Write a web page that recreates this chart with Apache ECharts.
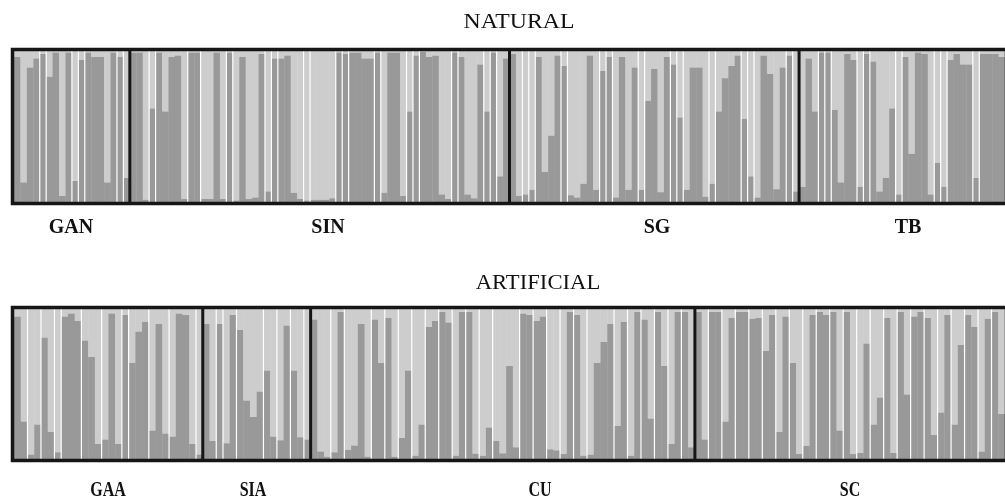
<!DOCTYPE html>
<html>
<head>
<meta charset="utf-8">
<script src="https://cdn.jsdelivr.net/npm/echarts@6/dist/echarts.min.js"></script>
<style>
  html, body { margin: 0; padding: 0; background: #fff; }
  #chart { width: 1005px; height: 502px; }
</style>
</head>
<body>
<div id="chart"></div>
<script>
// population labels
const naturalPops = ['GAN', 'SIN', 'SG', 'TB'];
const artificialPops = ['GAA', 'SIA', 'CU', 'SC'];

// membership of the dark cluster, one value per individual
const gan = [0.96, 0.13, 0.89, 0.95, 0.98, 0.83, 0.99, 0.04, 0.99, 0.14, 0.94, 0.99, 0.96, 0.96, 0.13, 0.99, 0.96, 0.16];
const sin = [0.99, 0.99, 0.015, 0.62, 0.99, 0.60, 0.96, 0.97, 0.02, 0.99, 0.99, 0.02, 0.02, 0.99, 0.02, 0.99, 0.01, 0.96, 0.02,
  0.03, 0.98, 0.07, 0.95, 0.95, 0.97, 0.06, 0.02, 0.01, 0.015, 0.015, 0.015, 0.025, 0.99, 0.98, 0.99, 0.99, 0.95, 0.95, 0.99,
  0.06, 0.99, 0.99, 0.04, 0.60, 0.97, 0.995, 0.96, 0.97, 0.05, 0.02, 0.99, 0.96, 0.05, 0.025, 0.91, 0.60, 0.99, 0.17, 0.95];
const sg = [0.98, 0.04, 0.05, 0.08, 0.96, 0.20, 0.44, 0.97, 0.90, 0.045, 0.03, 0.12, 0.97, 0.08, 0.87, 0.96, 0.03, 0.96, 0.08,
  0.89, 0.08, 0.67, 0.88, 0.065, 0.96, 0.91, 0.56, 0.08, 0.89, 0.89, 0.035, 0.12, 0.60, 0.82, 0.90, 0.97, 0.55, 0.17, 0.03,
  0.97, 0.85, 0.085, 0.89, 0.97, 0.07];
const tb = [0.10, 0.95, 0.60, 0.99, 0.99, 0.61, 0.13, 0.98, 0.94, 0.10, 0.98, 0.93, 0.07, 0.16, 0.62, 0.05, 0.96, 0.32, 0.99,
  0.98, 0.05, 0.26, 0.10, 0.94, 0.98, 0.91, 0.91, 0.16, 0.98, 0.98, 0.98, 0.96];

const gaa = [0.95, 0.25, 0.03, 0.23, 0.81, 0.18, 0.045, 0.95, 0.97, 0.92, 0.79, 0.68, 0.10, 0.13, 0.97, 0.10, 0.96, 0.64,
  0.85, 0.915, 0.19, 0.90, 0.17, 0.15, 0.97, 0.96, 0.10, 0.03];
const sia = [0.90, 0.12, 0.90, 0.105, 0.96, 0.86, 0.39, 0.28, 0.45, 0.59, 0.15, 0.125, 0.89, 0.59, 0.145, 0.13];
const cu = [0.93, 0.05, 0.016, 0.045, 0.98, 0.06, 0.09, 0.90, 0.016, 0.93, 0.64, 0.94, 0.016, 0.14, 0.59, 0.022, 0.23, 0.88,
  0.92, 0.98, 0.91, 0.022, 0.98, 0.98, 0.036, 0.022, 0.21, 0.12, 0.038, 0.62, 0.078, 0.97, 0.96, 0.92, 0.95, 0.065, 0.058,
  0.033, 0.98, 0.96, 0.022, 0.029, 0.64, 0.78, 0.90, 0.22, 0.915, 0.022, 0.98, 0.93, 0.27, 0.98, 0.62, 0.10, 0.98, 0.98, 0.078];
const sc = [0.98, 0.13, 0.98, 0.98, 0.25, 0.94, 0.98, 0.98, 0.935, 0.94, 0.72, 0.96, 0.18, 0.95, 0.64, 0.033, 0.087, 0.96,
  0.98, 0.96, 0.98, 0.19, 0.98, 0.033, 0.04, 0.77, 0.23, 0.41, 0.94, 0.04, 0.98, 0.43, 0.95, 0.98, 0.94, 0.16, 0.31, 0.96,
  0.23, 0.76, 0.96, 0.88, 0.05, 0.935, 0.98, 0.30];

// white lines between sampling sites (local index inside each population)
const ganSites = [4, 5, 9, 10, 11, 16, 17];
const sinSites = [3, 4, 9, 11, 15, 16, 21, 22, 23, 27, 28, 32, 33, 34, 38, 39, 43, 44, 45, 50, 51, 55, 56, 57];
const sgSites = [2, 3, 4, 8, 9, 14, 15, 16, 20, 21, 25, 26, 27, 31, 32, 36, 37, 38, 43, 44];
const tbSites = [3, 4, 5, 9, 10, 11, 15, 16, 21, 22, 23, 27, 28];
const gaaSites = [2, 4, 6, 7, 10, 13, 16, 17, 20, 23, 27];
const siaSites = [2, 3, 5, 9, 11, 13, 15];
const cuSites = [3, 5, 9, 11, 13, 15, 17, 19, 21, 23, 25, 27, 31, 33, 35, 37, 39, 41, 45, 47, 49, 51, 53, 55];
const scSites = [2, 4, 6, 8, 10, 12, 14, 16, 18, 20, 22, 24, 26, 28, 30, 32, 34, 36, 38, 40, 42, 44];

const DARK = '#999999';
const LIGHT = '#cdcdcd';
const FRAME = '#161616';

// flatten a panel: bars [i, v], lines [k, kind] (0 = site, 1 = population, 2 = frame)
function buildPanel(pops, sites) {
  const bars = [];
  const lines = [];
  let off = 0;
  pops.forEach((vals, p) => {
    sites[p].forEach(k => lines.push([off + k, 0]));
    if (p > 0) lines.push([off, 1]);
    vals.forEach((v, j) => bars.push([off + j, v]));
    off += vals.length;
  });
  lines.push([off, 2]);
  return { bars, lines, n: off };
}

const naturalPanel = buildPanel([gan, sin, sg, tb], [ganSites, sinSites, sgSites, tbSites]);
const artificialPanel = buildPanel([gaa, sia, cu, sc], [gaaSites, siaSites, cuSites, scSites]);

function renderBars(params, api) {
  const i = api.value(0);
  const v = api.value(1);
  const base = api.coord([i, 0]);
  const end = api.coord([i + 1, 1]);
  const mid = api.coord([i, v]);
  const w = end[0] - base[0] + 0.4;
  return {
    type: 'group',
    children: [
      { type: 'rect', shape: { x: base[0], y: end[1], width: w, height: mid[1] - end[1] }, style: { fill: LIGHT } },
      { type: 'rect', shape: { x: base[0], y: mid[1], width: w, height: base[1] - mid[1] }, style: { fill: DARK } }
    ]
  };
}

function renderLines(params, api) {
  const k = api.value(0);
  const kind = api.value(1);
  const t = api.coord([k, 1]);
  const b = api.coord([k, 0]);
  if (kind === 2) {
    const o = api.coord([0, 1]);
    return {
      type: 'rect',
      shape: { x: o[0] - 1.5, y: o[1] - 1.5, width: b[0] - o[0] + 3, height: b[1] - o[1] + 3 },
      style: { fill: null, stroke: FRAME, lineWidth: 3.5 }
    };
  }
  return {
    type: 'line',
    shape: { x1: t[0], y1: t[1], x2: b[0], y2: b[1] },
    style: kind === 1 ? { stroke: FRAME, lineWidth: 3 } : { stroke: '#ffffff', lineWidth: 1.2 }
  };
}

const chart = echarts.init(document.getElementById('chart'));

const serif = '"Liberation Serif", "DejaVu Serif", serif';
const labelStyle = { fontFamily: serif, fontSize: 20, fontWeight: 'bold', fill: '#111', align: 'center', verticalAlign: 'middle' };
const titleStyle = { fontFamily: serif, fontSize: 22, fill: '#111', align: 'center', verticalAlign: 'middle' };

function label(text, x, y, style, sx) {
  return { type: 'text', x: x, y: y, scaleX: sx, style: Object.assign({ text: text }, style) };
}

chart.setOption({
  animation: false,
  grid: [
    { left: 14, top: 51, width: naturalPanel.n * 6.45, height: 151 },
    { left: 14, top: 309, width: artificialPanel.n * 6.76, height: 150 }
  ],
  xAxis: [
    { type: 'value', gridIndex: 0, min: 0, max: naturalPanel.n, show: false },
    { type: 'value', gridIndex: 1, min: 0, max: artificialPanel.n, show: false }
  ],
  yAxis: [
    { type: 'value', gridIndex: 0, min: 0, max: 1, show: false },
    { type: 'value', gridIndex: 1, min: 0, max: 1, show: false }
  ],
  series: [
    { type: 'custom', xAxisIndex: 0, yAxisIndex: 0, renderItem: renderBars, data: naturalPanel.bars, z: 2 },
    { type: 'custom', xAxisIndex: 0, yAxisIndex: 0, renderItem: renderLines, data: naturalPanel.lines, z: 3 },
    { type: 'custom', xAxisIndex: 1, yAxisIndex: 1, renderItem: renderBars, data: artificialPanel.bars, z: 2 },
    { type: 'custom', xAxisIndex: 1, yAxisIndex: 1, renderItem: renderLines, data: artificialPanel.lines, z: 3 }
  ],
  graphic: [
    label('NATURAL', 519, 22, titleStyle, 1.08),
    label('ARTIFICIAL', 538, 283, titleStyle, 1.03),
    label(naturalPops[0], 71, 228, labelStyle, 1),
    label(naturalPops[1], 328, 228, labelStyle, 1),
    label(naturalPops[2], 657, 228, labelStyle, 1),
    label(naturalPops[3], 908, 228, labelStyle, 1),
    label(artificialPops[0], 108, 491, labelStyle, 0.8),
    label(artificialPops[1], 253, 491, labelStyle, 0.8),
    label(artificialPops[2], 540, 491, labelStyle, 0.8),
    label(artificialPops[3], 850, 491, labelStyle, 0.8)
  ]
});
</script>
</body>
</html>
